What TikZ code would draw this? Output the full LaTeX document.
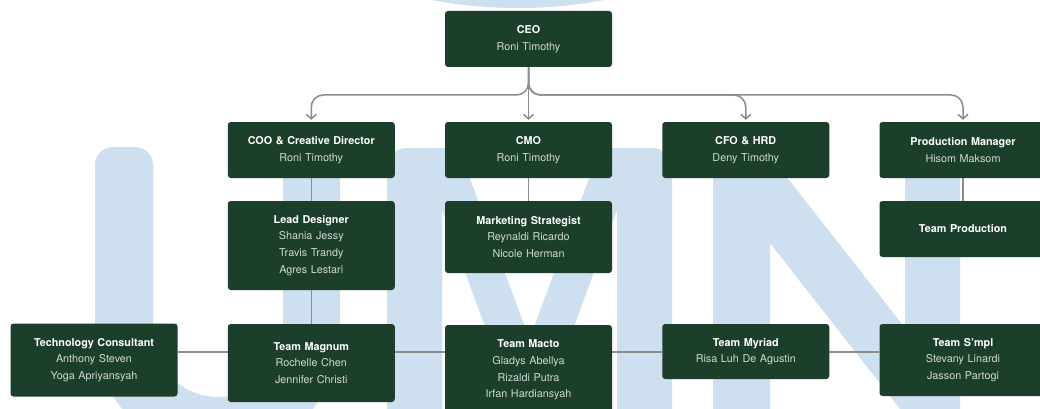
\documentclass[tikz,border=0pt]{standalone}
\usepackage{fontspec}
\setmainfont{TeX Gyre Heros}
\usetikzlibrary{positioning,arrows.meta}
\definecolor{boxgreen}{HTML}{1B3F2A}
\definecolor{namegray}{HTML}{D0D8D2}
\definecolor{linkgray}{HTML}{8C8C8C}
\definecolor{umnblue}{HTML}{CEE0F0}
\newcommand{\role}[1]{{\color{white}\bfseries #1}}

\begin{document}
\begin{tikzpicture}[x=1pt, y=-1pt, node distance=217.25pt, on grid,
  post/.style={rectangle, rounded corners=3pt, fill=boxgreen, text=namegray,
    text width=167pt, align=center, inner sep=0pt, minimum height=#1,
    font=\fontsize{10.8}{16.7}\selectfont},
  post/.default=56pt,
  link/.style={draw=linkgray, line width=1.5pt},
  branch/.style={link, -{Straight Barb[length=4.5pt,width=10pt]}, shorten >=2pt, rounded corners=12pt}]
\useasboundingbox (0,0) rectangle (1040,409);
\fill[white] (0,0) rectangle (1040,409);

% watermark letters
\fill[umnblue] (518,-42) ellipse [x radius=158, y radius=50];
\fill[umnblue] (95,300) [rounded corners=18pt] -- (95,147) -- (153,147) -- (153,200)
  [sharp corners] -- (153,332) arc(180:0:65) -- (283,200)
  [rounded corners=18pt] -- (283,147) -- (340,147) -- (340,200)
  [sharp corners] -- (340,332) arc(0:180:122.5) -- cycle;
\fill[umnblue] (387,300) [rounded corners=20pt] -- (387,148) -- (672,148) -- (672,200)
  [sharp corners] -- (672,440) -- (617,440) -- (617,210) -- (531.9,440) -- (527.1,440)
  -- (442,210) -- (442,440) -- (387,440) -- cycle;
\fill[white] (463.3,160) -- (595.7,160) -- (529.5,338.8) -- cycle;
\fill[umnblue] (713,300) [rounded corners=18pt] -- (713,148) -- (764,148)
  [sharp corners] -- (905,328) -- (905,148)
  [rounded corners=18pt] -- (960,148) -- (960,200)
  [sharp corners] -- (960,460) -- (940,460) -- (770,243) -- (770,460) -- (713,460) -- cycle;

% boxes
\node[post] (ceo) at (528.5,39) {\role{CEO}\\Roni Timothy};
\node[post] (cmo) at (528.5,150) {\role{CMO}\\Roni Timothy};
\node[post, left=of cmo] (coo) {\role{COO \& Creative Director}\\Roni Timothy};
\node[post, right=of cmo] (cfo) {\role{CFO \& HRD}\\Deny Timothy};
\node[post, right=of cfo] (prod) {\role{Production Manager}\\Hisom Maksom};

\node[post=89pt, below=95.5pt of coo] (lead) {\role{Lead Designer}\\Shania Jessy\\Travis Trandy\\Agres Lestari};
\node[post=72pt, below=87pt of cmo] (mkt) {\role{Marketing Strategist}\\Reynaldi Ricardo\\Nicole Herman};
\node[post, below=79pt of prod] (teamprod) {\role{Team Production}};

\node[post=73pt, below left=210pt and 217.25pt of coo] (tech) {\role{Technology Consultant}\\Anthony Steven\\Yoga Apriyansyah};
\node[post=78pt, below=117.5pt of lead] (magnum) {\role{Team Magnum}\\Rochelle Chen\\Jennifer Christi};
\node[post=90pt, below=220pt of cmo] (macto) {\role{Team Macto}\\Gladys Abellya\\Rizaldi Putra\\Irfan Hardiansyah};
\node[post=55pt, below=201.5pt of cfo] (myriad) {\role{Team Myriad}\\Risa Luh De Agustin};
\node[post=72pt, below=210pt of prod] (smpl) {\role{Team S'mpl}\\Stevany Linardi\\Jasson Partogi};

% connectors
\coordinate (bus) at (0,95);
\coordinate (teamline) at (0,352);
\draw[branch] (ceo.south) -- (cmo.north);
\draw[branch] (ceo.south) |- (coo.north |- bus) -- (coo.north);
\draw[branch] (ceo.south) |- (cfo.north |- bus) -- (cfo.north);
\draw[branch] (ceo.south) |- (prod.north |- bus) -- (prod.north);

\draw[link] (coo) -- (lead);
\draw[link] (lead) -- (magnum);
\draw[link] (cmo) -- (mkt);
\draw[link] (prod) -- (teamprod);

\draw[link] (tech.east |- teamline) -- (magnum.west |- teamline);
\draw[link] (magnum.east |- teamline) -- (macto.west |- teamline);
\draw[link] (macto.east |- teamline) -- (myriad.west |- teamline);
\draw[link] (myriad.east |- teamline) -- (smpl.west |- teamline);
\end{tikzpicture}
\end{document}
